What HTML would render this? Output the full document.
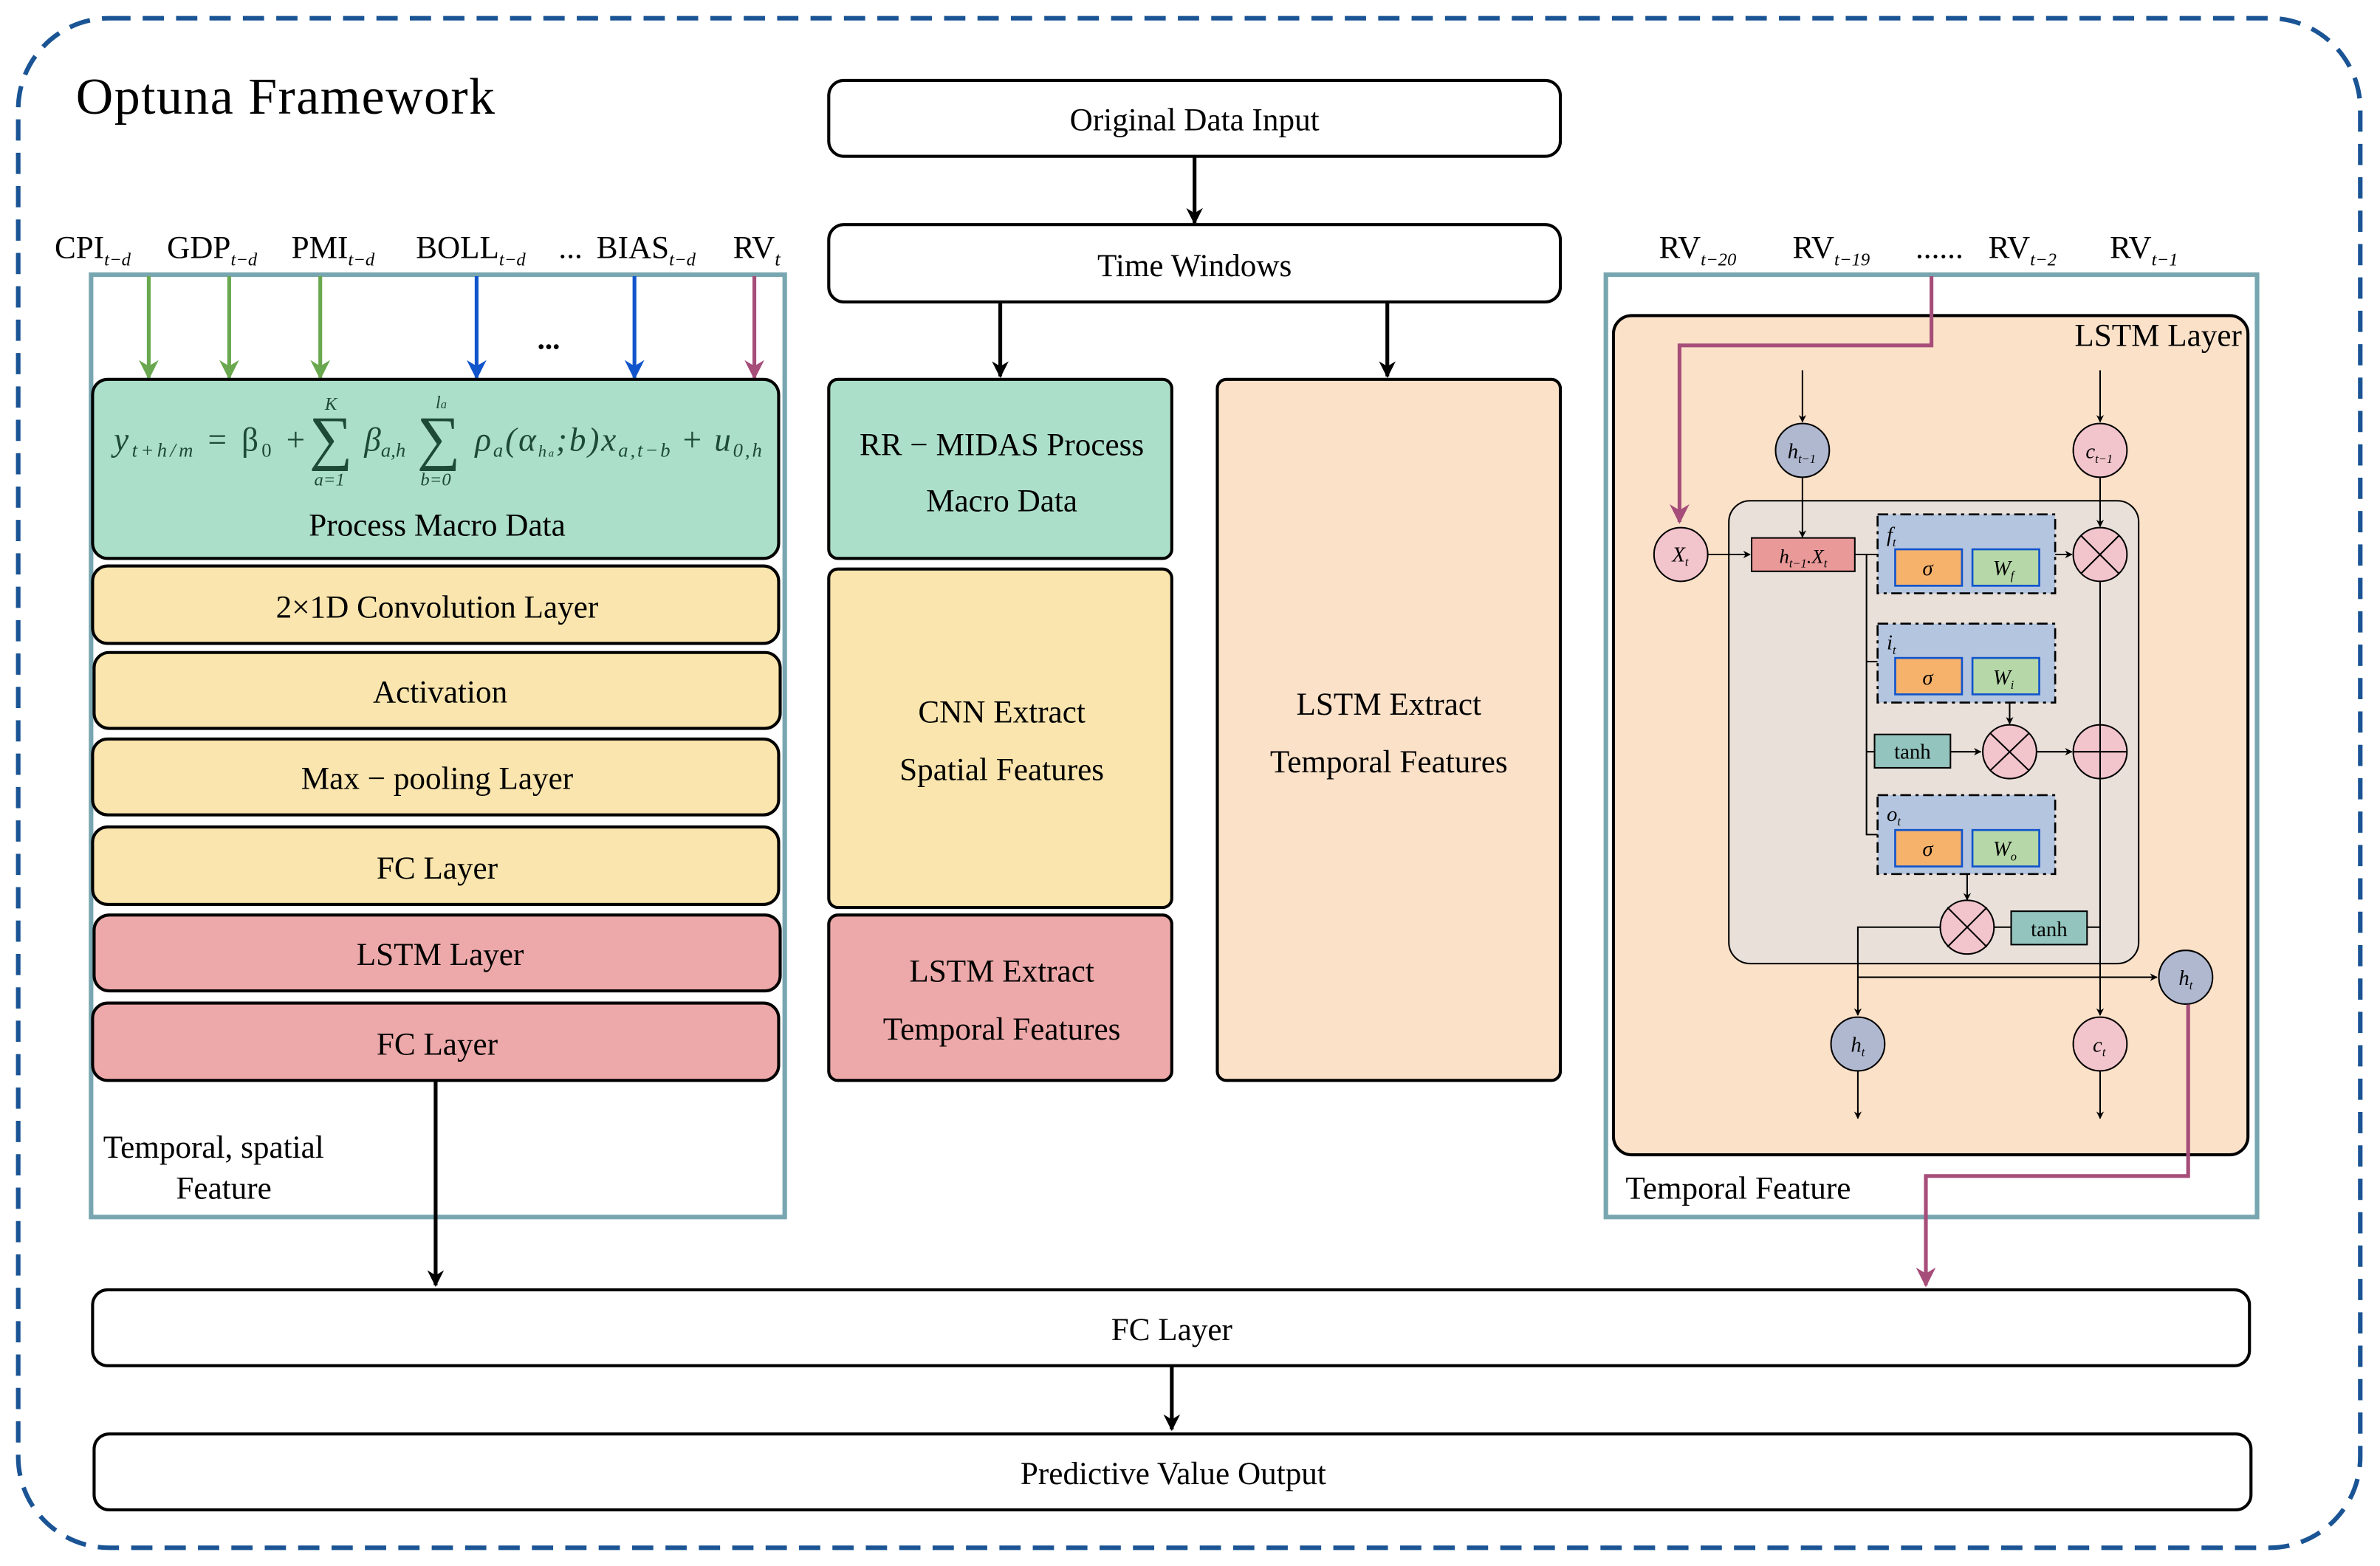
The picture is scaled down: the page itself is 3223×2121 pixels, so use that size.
<!DOCTYPE html>
<html><head><meta charset="utf-8"><style>
html,body{margin:0;padding:0;background:#fff}
svg{display:block}
text{font-family:"Liberation Serif",serif;fill:#000}
.i{font-style:italic}
</style></head><body>
<svg width="3223" height="2121" viewBox="0 0 1568 1032" preserveAspectRatio="none" xmlns="http://www.w3.org/2000/svg">
<defs>
<marker id="ak" viewBox="0 0 10 10" refX="9" refY="5" markerWidth="5" markerHeight="6" orient="auto" markerUnits="userSpaceOnUse"><path d="M0,0 L10,5 L0,10 L3,5 z" fill="#000"/></marker>
<marker id="ab" viewBox="0 0 10 10" refX="9" refY="5" markerWidth="16" markerHeight="11" orient="auto" markerUnits="userSpaceOnUse"><path d="M0,0 L10,5 L0,10 L3,5 z" fill="#000"/></marker>
<marker id="ag" viewBox="0 0 10 10" refX="9" refY="5" markerWidth="22" markerHeight="13" orient="auto" markerUnits="userSpaceOnUse"><path d="M0,0 L10,5 L0,10 L3,5 z" fill="#6aa84f"/></marker>
<marker id="abl" viewBox="0 0 10 10" refX="9" refY="5" markerWidth="22" markerHeight="13" orient="auto" markerUnits="userSpaceOnUse"><path d="M0,0 L10,5 L0,10 L3,5 z" fill="#1155cc"/></marker>
<marker id="am" viewBox="0 0 10 10" refX="9" refY="5" markerWidth="22" markerHeight="13" orient="auto" markerUnits="userSpaceOnUse"><path d="M0,0 L10,5 L0,10 L3,5 z" fill="#a64d79"/></marker>
</defs>

<rect x="12" y="12" width="1543" height="1008" rx="60" fill="none" stroke="#1a5494" stroke-width="3" stroke-dasharray="14,8"/>
<text x="50" y="75" font-size="34" textLength="276">Optuna Framework</text>

<rect x="60" y="181" width="457" height="621" fill="none" stroke="#78a6b0" stroke-width="3"/>
<g font-size="21">
<text x="36" y="170">CPI<tspan font-size="12" class="i" dy="5">t−d</tspan></text>
<text x="110" y="170">GDP<tspan font-size="12" class="i" dy="5">t−d</tspan></text>
<text x="192" y="170">PMI<tspan font-size="12" class="i" dy="5">t−d</tspan></text>
<text x="274" y="170">BOLL<tspan font-size="12" class="i" dy="5">t−d</tspan></text>
<text x="368" y="170">...</text>
<text x="393" y="170">BIAS<tspan font-size="12" class="i" dy="5">t−d</tspan></text>
<text x="483" y="170">RV<tspan font-size="13" class="i" dy="5">t</tspan></text>
</g>
<g stroke-width="2.5">
<line x1="98" y1="182" x2="98" y2="249" stroke="#6aa84f" marker-end="url(#ag)"/>
<line x1="151" y1="182" x2="151" y2="249" stroke="#6aa84f" marker-end="url(#ag)"/>
<line x1="211" y1="182" x2="211" y2="249" stroke="#6aa84f" marker-end="url(#ag)"/>
<line x1="314" y1="182" x2="314" y2="249" stroke="#1155cc" marker-end="url(#abl)"/>
<line x1="418" y1="182" x2="418" y2="249" stroke="#1155cc" marker-end="url(#abl)"/>
<line x1="497" y1="182" x2="497" y2="249" stroke="#a64d79" marker-end="url(#am)"/>
</g>
<text x="354" y="230" font-size="20" font-weight="bold">...</text>

<g stroke="#000" stroke-width="2">
<rect x="61" y="250" width="452" height="118" rx="10" fill="#acdfca"/>
<rect x="61" y="373" width="452" height="51" rx="10" fill="#f9e5ad"/>
<rect x="62" y="430" width="452" height="50" rx="10" fill="#f9e5ad"/>
<rect x="61" y="487" width="452" height="50" rx="10" fill="#f9e5ad"/>
<rect x="61" y="545" width="452" height="51" rx="10" fill="#f9e5ad"/>
<rect x="62" y="603" width="452" height="50" rx="10" fill="#eda9aa"/>
<rect x="61" y="661" width="452" height="51" rx="10" fill="#eda9aa"/>
</g>
<g font-size="22" class="i">
<text x="75" y="297" style="fill:#1d4a36" textLength="126">y<tspan font-size="13" dy="4">t+h/m</tspan><tspan dy="-4" font-style="normal"> = β</tspan><tspan font-size="13" dy="4" font-style="normal">0</tspan><tspan dy="-4" font-style="normal"> +</tspan></text>
<text x="218" y="302" font-size="40" font-style="normal" text-anchor="middle" style="fill:#1d4a36">∑</text>
<text x="214" y="270" font-size="12" style="fill:#1d4a36">K</text>
<text x="207" y="320" font-size="12" style="fill:#1d4a36">a=1</text>
<text x="240" y="297" style="fill:#1d4a36">β<tspan font-size="13" dy="4">a,h</tspan></text>
<text x="289" y="302" font-size="40" font-style="normal" text-anchor="middle" style="fill:#1d4a36">∑</text>
<text x="287" y="269" font-size="12" style="fill:#1d4a36">l<tspan font-size="8">a</tspan></text>
<text x="277" y="320" font-size="12" style="fill:#1d4a36">b=0</text>
<text x="313" y="297" style="fill:#1d4a36" textLength="189">ρ<tspan font-size="13" dy="4">a</tspan><tspan dy="-4">(α</tspan><tspan font-size="11" dy="4">h<tspan font-size="7">a</tspan></tspan><tspan dy="-4">;b)x</tspan><tspan font-size="13" dy="4">a,t−b</tspan><tspan dy="-4" font-style="normal"> + </tspan>u<tspan font-size="13" dy="4">0,h</tspan></text>
</g>
<g font-size="21" text-anchor="middle">
<text x="288" y="353">Process Macro Data</text>
<text x="288" y="407">2×1D Convolution Layer</text>
<text x="290" y="463">Activation</text>
<text x="288" y="520">Max − pooling Layer</text>
<text x="288" y="579">FC Layer</text>
<text x="290" y="636">LSTM Layer</text>
<text x="288" y="695">FC Layer</text>
</g>
<text x="68" y="763" font-size="21">Temporal, spatial</text>
<text x="116" y="790" font-size="21">Feature</text>
<line x1="287" y1="712" x2="287" y2="847" stroke="#000" stroke-width="2.5" marker-end="url(#ab)"/>

<g stroke="#000" stroke-width="2">
<rect x="546" y="53" width="482" height="50" rx="10" fill="#fff"/>
<rect x="546" y="148" width="482" height="51" rx="10" fill="#fff"/>
<rect x="546" y="250" width="226" height="118" rx="6" fill="#acdfca"/>
<rect x="546" y="375" width="226" height="223" rx="6" fill="#f9e5ad"/>
<rect x="546" y="603" width="226" height="109" rx="6" fill="#eda9aa"/>
<rect x="802" y="250" width="226" height="462" rx="6" fill="#fbe1c8"/>
</g>
<g stroke="#000" stroke-width="2.5">
<line x1="787" y1="103" x2="787" y2="147" marker-end="url(#ab)"/>
<line x1="659" y1="199" x2="659" y2="248" marker-end="url(#ab)"/>
<line x1="914" y1="199" x2="914" y2="248" marker-end="url(#ab)"/>
</g>
<g font-size="21" text-anchor="middle">
<text x="787" y="86">Original Data Input</text>
<text x="787" y="182">Time Windows</text>
<text x="660" y="300">RR − MIDAS Process</text>
<text x="660" y="337">Macro Data</text>
<text x="660" y="476">CNN Extract</text>
<text x="660" y="514">Spatial Features</text>
<text x="660" y="647">LSTM Extract</text>
<text x="660" y="685">Temporal Features</text>
<text x="915" y="471">LSTM Extract</text>
<text x="915" y="509">Temporal Features</text>
</g>

<g font-size="21">
<text x="1093" y="170">RV<tspan font-size="12" class="i" dy="5">t−20</tspan></text>
<text x="1181" y="170">RV<tspan font-size="12" class="i" dy="5">t−19</tspan></text>
<text x="1262" y="170">......</text>
<text x="1310" y="170">RV<tspan font-size="12" class="i" dy="5">t−2</tspan></text>
<text x="1390" y="170">RV<tspan font-size="12" class="i" dy="5">t−1</tspan></text>
</g>
<rect x="1058" y="181" width="429" height="621" fill="none" stroke="#78a6b0" stroke-width="3"/>
<rect x="1063" y="208" width="418" height="553" rx="12" fill="#fbe1c8" stroke="#000" stroke-width="2"/>
<text x="1477" y="228" font-size="21" text-anchor="end">LSTM Layer</text>
<rect x="1139" y="330" width="270" height="305" rx="14" fill="#e8e0d9" stroke="#000" stroke-width="1"/>

<g stroke="#000" stroke-width="1" fill="none">
<line x1="1187.5" y1="244" x2="1187.5" y2="278" marker-end="url(#ak)"/>
<line x1="1383.6" y1="244" x2="1383.6" y2="278" marker-end="url(#ak)"/>
<line x1="1187.5" y1="315" x2="1187.5" y2="354" marker-end="url(#ak)"/>
<line x1="1383.6" y1="315" x2="1383.6" y2="347" marker-end="url(#ak)"/>
<line x1="1125" y1="365.4" x2="1153" y2="365.4" marker-end="url(#ak)"/>
<polyline points="1222,365.4 1237,365.4"/>
<polyline points="1229.7,365.4 1229.7,550 1237,550"/>
<line x1="1229.7" y1="436" x2="1237" y2="436"/>
<line x1="1229.7" y1="495.4" x2="1235" y2="495.4"/>
<line x1="1354" y1="365.4" x2="1365" y2="365.4" marker-end="url(#ak)"/>
<line x1="1324" y1="462.5" x2="1324" y2="477" marker-end="url(#ak)"/>
<line x1="1285" y1="495.4" x2="1305" y2="495.4" marker-end="url(#ak)"/>
<line x1="1342" y1="495.4" x2="1365" y2="495.4" marker-end="url(#ak)"/>
<line x1="1296" y1="576" x2="1296" y2="593" marker-end="url(#ak)"/>
<line x1="1383.6" y1="383" x2="1383.6" y2="669" marker-end="url(#ak)"/>
<line x1="1314" y1="611" x2="1325" y2="611"/>
<line x1="1375" y1="611" x2="1383.6" y2="611"/>
<polyline points="1278,611 1224,611 1224,669" marker-end="url(#ak)"/>
<line x1="1224" y1="644" x2="1421" y2="644" marker-end="url(#ak)"/>
<line x1="1224" y1="706" x2="1224" y2="737" marker-end="url(#ak)"/>
<line x1="1383.6" y1="706" x2="1383.6" y2="737" marker-end="url(#ak)"/>
</g>

<g stroke="#000" stroke-width="1.3" stroke-dasharray="7,3,2,3" fill="#b4c5e0">
<rect x="1237" y="339" width="117" height="52"/>
<rect x="1237" y="411" width="117" height="52"/>
<rect x="1237" y="524" width="117" height="52"/>
</g>
<g stroke="#1155cc" stroke-width="1.3">
<rect x="1248.6" y="362" width="44" height="24" fill="#f6b26b"/>
<rect x="1299.5" y="362" width="44" height="24" fill="#b6d7a8"/>
<rect x="1248.6" y="433.6" width="44" height="24" fill="#f6b26b"/>
<rect x="1299.5" y="433.6" width="44" height="24" fill="#b6d7a8"/>
<rect x="1248.6" y="547" width="44" height="24" fill="#f6b26b"/>
<rect x="1299.5" y="547" width="44" height="24" fill="#b6d7a8"/>
</g>
<g font-size="14" class="i">
<text x="1243" y="357">f<tspan font-size="8" dy="3">t</tspan></text>
<text x="1243" y="428">i<tspan font-size="8" dy="3">t</tspan></text>
<text x="1243" y="541">o<tspan font-size="8" dy="3">t</tspan></text>
<text x="1270" y="379" text-anchor="middle">σ</text>
<text x="1270" y="451" text-anchor="middle">σ</text>
<text x="1270" y="564" text-anchor="middle">σ</text>
<text x="1313" y="379">W<tspan font-size="8" dy="3">f</tspan></text>
<text x="1313" y="451">W<tspan font-size="8" dy="3">i</tspan></text>
<text x="1313" y="564">W<tspan font-size="8" dy="3">o</tspan></text>
</g>
<rect x="1154" y="354.5" width="68" height="22" fill="#ea9999" stroke="#000" stroke-width="1"/>
<text x="1188" y="371" font-size="13" class="i" text-anchor="middle">h<tspan font-size="8" dy="3">t−1</tspan><tspan dy="-3">.X</tspan><tspan font-size="8" dy="3">t</tspan></text>
<g stroke="#000" stroke-width="1" fill="#93c4be">
<rect x="1235" y="484" width="50" height="22"/>
<rect x="1325" y="600.5" width="50" height="22"/>
</g>
<text x="1260" y="500" font-size="14" text-anchor="middle">tanh</text>
<text x="1350" y="617" font-size="14" text-anchor="middle">tanh</text>

<g stroke="#000" stroke-width="1">
<circle cx="1187.5" cy="296.8" r="17.7" fill="#b0b8d0"/>
<circle cx="1383.6" cy="296.8" r="17.7" fill="#f2c4cc"/>
<circle cx="1107.4" cy="365.4" r="17.7" fill="#f2c4cc"/>
<circle cx="1383.6" cy="365.4" r="17.7" fill="#f2c4cc"/>
<circle cx="1324" cy="495.4" r="17.7" fill="#f2c4cc"/>
<circle cx="1383.6" cy="495.4" r="17.7" fill="#f2c4cc"/>
<circle cx="1296" cy="611" r="17.7" fill="#f2c4cc"/>
<circle cx="1440" cy="644" r="17.7" fill="#b0b8d0"/>
<circle cx="1224" cy="688" r="17.7" fill="#b0b8d0"/>
<circle cx="1383.6" cy="688" r="17.7" fill="#f2c4cc"/>
<path d="M1371,353 L1396,378 M1396,353 L1371,378 M1311,483 L1337,508 M1337,483 L1311,508 M1283,598 L1309,624 M1309,598 L1283,624 M1366,495.4 L1401,495.4 M1383.6,478 L1383.6,513" fill="none"/>
</g>
<g font-size="14" class="i" text-anchor="middle">
<text x="1187" y="302">h<tspan font-size="8" dy="3">t−1</tspan></text>
<text x="1383" y="302">c<tspan font-size="8" dy="3">t−1</tspan></text>
<text x="1107" y="370">X<tspan font-size="8" dy="3">t</tspan></text>
<text x="1440" y="649">h<tspan font-size="8" dy="3">t</tspan></text>
<text x="1224" y="693">h<tspan font-size="8" dy="3">t</tspan></text>
<text x="1383" y="693">c<tspan font-size="8" dy="3">t</tspan></text>
</g>
<text x="1071" y="790" font-size="21">Temporal Feature</text>

<polyline points="1272.5,182 1272.5,227.6 1106.5,227.6 1106.5,344" fill="none" stroke="#a64d79" stroke-width="2.5" marker-end="url(#am)"/>
<polyline points="1441.6,662 1441.6,775 1268.8,775 1268.8,847" fill="none" stroke="#a64d79" stroke-width="2.5" marker-end="url(#am)"/>

<rect x="61" y="850" width="1421" height="50" rx="10" fill="#fff" stroke="#000" stroke-width="2"/>
<rect x="62" y="945" width="1421" height="50" rx="10" fill="#fff" stroke="#000" stroke-width="2"/>
<line x1="772" y1="900" x2="772" y2="942" stroke="#000" stroke-width="2.5" marker-end="url(#ab)"/>
<text x="772" y="883" font-size="21" text-anchor="middle">FC Layer</text>
<text x="773" y="978" font-size="21" text-anchor="middle">Predictive Value Output</text>
</svg>
</body></html>
